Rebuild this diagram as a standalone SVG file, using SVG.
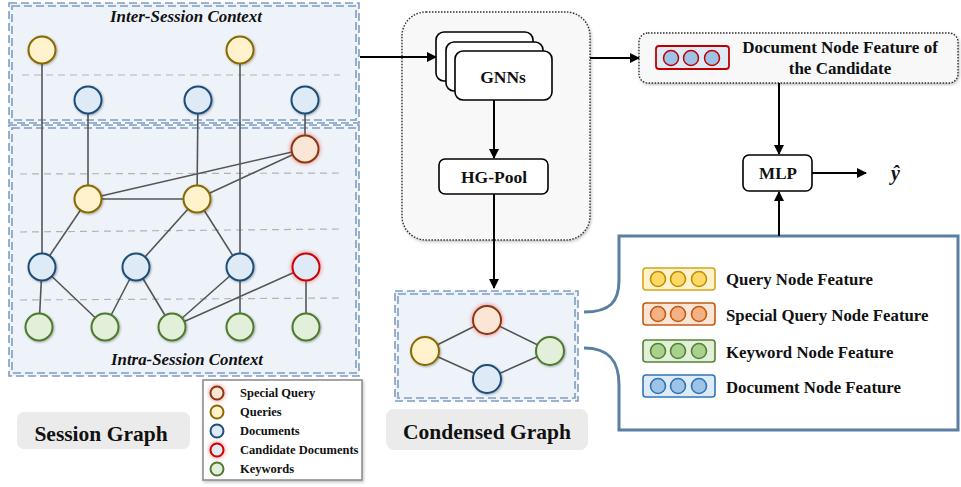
<svg xmlns="http://www.w3.org/2000/svg" width="961" height="487" viewBox="0 0 961 487">
  <defs>
    <style>
      .lbl { font-family: "Liberation Serif", "Times New Roman", serif; font-weight: bold; fill: #111; }
      .ctx { font-family: "Liberation Serif", "Times New Roman", serif; font-weight: bold; font-style: italic; font-size: 17px; fill: #111; text-anchor: middle; }
      .frame { fill: none; stroke: #7f9dc1; stroke-width: 1.6; stroke-dasharray: 8 4; }
      .sep { stroke: #b3b3b3; stroke-width: 1.2; stroke-dasharray: 7 5; }
      .edge { stroke: #555; stroke-width: 1.6; fill: none; }
      .arrow { stroke: #000; stroke-width: 2; fill: none; marker-end: url(#ah); }
      .q { fill: #fff2cc; stroke: #8a6a00; stroke-width: 2; }
      .d { fill: #deebf7; stroke: #1f4e79; stroke-width: 2; }
      .sq { fill: #fbe5d6; stroke: #8a3a0c; stroke-width: 2; }
      .cd { fill: #deebf7; stroke: #d00000; stroke-width: 2; }
      .k { fill: #e2f0d9; stroke: #4f7a2f; stroke-width: 2; }
      .box { fill: #fff; stroke: #000; stroke-width: 1.6; }
      .tag { fill: #ebebeb; }
    </style>
    <marker id="ah" viewBox="0 0 10 10" refX="9" refY="5" markerWidth="5" markerHeight="5" orient="auto">
      <path d="M0,0 L10,5 L0,10 z" fill="#000"/>
    </marker>
    <filter id="soft" x="-30%" y="-30%" width="160%" height="160%">
      <feDropShadow dx="0.8" dy="0.8" stdDeviation="0.9" flood-color="#000" flood-opacity="0.35"/>
    </filter>
    <filter id="glow" x="-40%" y="-40%" width="180%" height="180%">
      <feDropShadow dx="0" dy="0" stdDeviation="2" flood-color="#e03030" flood-opacity="0.7"/>
    </filter>
    <filter id="panel" x="-5%" y="-5%" width="110%" height="110%">
      <feDropShadow dx="1" dy="1.5" stdDeviation="1.5" flood-color="#000" flood-opacity="0.25"/>
    </filter>
  </defs>

  <!-- session graph panels -->
  <g id="inter-session">
    <rect x="9" y="3" width="350" height="120" fill="#eef3fa"/>
    <rect class="frame" x="9" y="3" width="350" height="120"/>
    <rect class="frame" x="12" y="6" width="344" height="114"/>
    <text class="ctx" x="186" y="22" textLength="152" lengthAdjust="spacingAndGlyphs">Inter-Session Context</text>
    <line class="sep" x1="22" y1="75" x2="340" y2="75"/>
  </g>
  <g id="intra-session">
    <rect x="9" y="125" width="350" height="251" fill="#eef3fa"/>
    <rect class="frame" x="9" y="125" width="350" height="251"/>
    <rect class="frame" x="12" y="128" width="344" height="245"/>
    <line class="sep" x1="20" y1="174" x2="340" y2="173"/>
    <line class="sep" x1="20" y1="232" x2="340" y2="229"/>
    <line class="sep" x1="20" y1="300" x2="340" y2="298"/>
    <text class="ctx" x="187" y="365" textLength="152" lengthAdjust="spacingAndGlyphs">Intra-Session Context</text>
  </g>

  <!-- session graph edges -->
  <g id="session-edges">
    <line class="edge" x1="42" y1="50" x2="42" y2="267"/>
    <line class="edge" x1="240" y1="50" x2="240" y2="267"/>
    <line class="edge" x1="88" y1="100" x2="88" y2="199"/>
    <line class="edge" x1="198" y1="100" x2="197" y2="199"/>
    <line class="edge" x1="305" y1="100" x2="305" y2="149"/>
    <line class="edge" x1="305" y1="149" x2="88" y2="199"/>
    <line class="edge" x1="305" y1="149" x2="197" y2="199"/>
    <line class="edge" x1="88" y1="199" x2="197" y2="199"/>
    <line class="edge" x1="88" y1="199" x2="42" y2="267"/>
    <line class="edge" x1="197" y1="199" x2="136" y2="267"/>
    <line class="edge" x1="197" y1="199" x2="240" y2="267"/>
    <line class="edge" x1="42" y1="267" x2="39" y2="327"/>
    <line class="edge" x1="42" y1="267" x2="105" y2="327"/>
    <line class="edge" x1="136" y1="267" x2="105" y2="327"/>
    <line class="edge" x1="136" y1="267" x2="172" y2="327"/>
    <line class="edge" x1="240" y1="267" x2="172" y2="327"/>
    <line class="edge" x1="240" y1="267" x2="240" y2="327"/>
    <line class="edge" x1="306" y1="267" x2="172" y2="327"/>
    <line class="edge" x1="306" y1="267" x2="306" y2="327"/>
  </g>

  <!-- session graph nodes -->
  <g id="session-nodes" filter="url(#soft)">
    <circle id="q1" class="q" cx="42" cy="50" r="13.5"/>
    <circle id="q2" class="q" cx="240" cy="50" r="13.5"/>
    <circle id="d1" class="d" cx="88" cy="100" r="13.5"/>
    <circle id="d2" class="d" cx="198" cy="100" r="13.5"/>
    <circle id="d3" class="d" cx="305" cy="100" r="13.5"/>
    <circle id="q3" class="q" cx="88" cy="199" r="13.5"/>
    <circle id="q4" class="q" cx="197" cy="199" r="13.5"/>
    <circle id="d4" class="d" cx="42" cy="267" r="13.5"/>
    <circle id="d5" class="d" cx="136" cy="267" r="13.5"/>
    <circle id="d6" class="d" cx="240" cy="267" r="13.5"/>
    <circle id="k1" class="k" cx="39" cy="327" r="13.5"/>
    <circle id="k2" class="k" cx="105" cy="327" r="13.5"/>
    <circle id="k3" class="k" cx="172" cy="327" r="13.5"/>
    <circle id="k4" class="k" cx="240" cy="327" r="13.5"/>
    <circle id="k5" class="k" cx="306" cy="327" r="13.5"/>
  </g>
  <g id="session-highlight" filter="url(#glow)">
    <circle id="sq1" class="sq" cx="305" cy="149" r="13.5"/>
    <circle id="cd1" class="cd" cx="306" cy="267" r="13.5"/>
  </g>

  <!-- node legend -->
  <g id="node-legend">
    <rect x="203" y="380" width="159" height="100" fill="#fff" stroke="#888" stroke-width="1.5" filter="url(#panel)"/>
    <circle class="sq" cx="217" cy="393" r="6.5" filter="url(#glow)"/>
    <circle class="q" cx="217" cy="412" r="6.5"/>
    <circle class="d" cx="217" cy="431" r="6.5"/>
    <circle class="cd" cx="217" cy="450" r="6.5" filter="url(#glow)"/>
    <circle class="k" cx="217" cy="469" r="6.5"/>
    <g class="lbl" font-size="12.5">
      <text x="240" y="397">Special Query</text>
      <text x="240" y="416">Queries</text>
      <text x="240" y="435">Documents</text>
      <text x="240" y="454">Candidate Documents</text>
      <text x="240" y="473">Keywords</text>
    </g>
  </g>

  <g id="session-tag">
    <rect class="tag" x="17" y="412" width="173" height="37" rx="7"/>
    <text class="lbl" x="101" y="441" font-size="21.5" text-anchor="middle">Session Graph</text>
  </g>

  <!-- encoder panel -->
  <g id="encoder">
    <rect x="402" y="12" width="188" height="228" rx="24" fill="#f8f8f8" stroke="#333" stroke-width="1.4" stroke-dasharray="1.5 1.5" filter="url(#panel)"/>
  </g>
  <g id="gnns">
    <rect class="box" x="436" y="32" width="97" height="49" rx="8"/>
    <rect class="box" x="446" y="42" width="97" height="49" rx="8"/>
    <rect class="box" x="455" y="51" width="97" height="49" rx="8"/>
    <text class="lbl" x="503" y="83" font-size="17.5" text-anchor="middle">GNNs</text>
  </g>
  <g id="hg-pool">
    <rect class="box" x="439" y="159" width="109" height="35" rx="6"/>
    <text class="lbl" x="494" y="183" font-size="17.5" text-anchor="middle">HG-Pool</text>
  </g>

  <!-- condensed graph -->
  <g id="condensed">
    <rect x="395" y="291" width="183" height="110" fill="#eef3fa"/>
    <rect class="frame" x="395" y="291" width="183" height="110"/>
    <rect class="frame" x="398" y="294" width="177" height="104"/>
    <line class="edge" x1="487" y1="320" x2="425" y2="351"/>
    <line class="edge" x1="487" y1="320" x2="550" y2="351"/>
    <line class="edge" x1="425" y1="351" x2="487" y2="379"/>
    <line class="edge" x1="550" y1="351" x2="487" y2="379"/>
    <circle class="sq" cx="487" cy="320" r="14" filter="url(#glow)"/>
    <circle class="q" cx="425" cy="351" r="14" filter="url(#soft)"/>
    <circle class="k" cx="550" cy="351" r="14" filter="url(#soft)"/>
    <circle class="d" cx="487" cy="379" r="14" filter="url(#soft)"/>
  </g>
  <g id="condensed-tag">
    <rect class="tag" x="386" y="409" width="202" height="41" rx="8"/>
    <text class="lbl" x="487" y="439" font-size="21.5" text-anchor="middle">Condensed Graph</text>
  </g>

  <!-- candidate feature -->
  <g id="candidate-feature">
    <rect x="639" y="33" width="319" height="50" rx="9" fill="#f8f8f8" stroke="#333" stroke-width="1.4" stroke-dasharray="1.5 1.5" filter="url(#panel)"/>
    <rect x="656" y="46" width="73" height="23" rx="3" fill="#deebf7" stroke="#c00000" stroke-width="1.8"/>
    <circle cx="671" cy="58" r="7.5" fill="#9dc3e6" stroke="#c00000" stroke-width="1.5"/>
    <circle cx="691" cy="58" r="7.5" fill="#9dc3e6" stroke="#c00000" stroke-width="1.5"/>
    <circle cx="712" cy="58" r="7.5" fill="#9dc3e6" stroke="#c00000" stroke-width="1.5"/>
    <text class="lbl" x="840" y="53" font-size="17" text-anchor="middle">Document Node Feature of</text>
    <text class="lbl" x="840" y="74" font-size="17" text-anchor="middle">the Candidate</text>
  </g>

  <g id="mlp">
    <rect class="box" x="743" y="155" width="69" height="36" rx="6"/>
    <text class="lbl" x="778" y="179" font-size="17" text-anchor="middle">MLP</text>
  </g>
  <g id="output">
    <text class="lbl" x="891" y="180" font-size="20" font-style="italic">ŷ</text>
  </g>

  <!-- feature legend with brace -->
  <g id="feature-legend">
    <path d="M584,312 C610,312 619,302 619,280 L619,236 L958,236 L958,430 L619,430 L619,385 C619,362 610,348 584,348" fill="#fff" stroke="#5b7fa3" stroke-width="3"/>
    <g stroke-width="1.6">
      <rect x="643" y="268" width="72" height="22" rx="3" fill="#fff2cc" stroke="#d4a514"/>
      <circle cx="658" cy="279" r="7.5" fill="#ffd966" stroke="#c09000"/>
      <circle cx="678" cy="279" r="7.5" fill="#ffd966" stroke="#c09000"/>
      <circle cx="699" cy="279" r="7.5" fill="#ffd966" stroke="#c09000"/>
      <rect x="643" y="303" width="72" height="22" rx="3" fill="#fbe5d6" stroke="#c55a11"/>
      <circle cx="658" cy="314" r="7.5" fill="#f4b183" stroke="#c55a11"/>
      <circle cx="678" cy="314" r="7.5" fill="#f4b183" stroke="#c55a11"/>
      <circle cx="699" cy="314" r="7.5" fill="#f4b183" stroke="#c55a11"/>
      <rect x="643" y="340" width="72" height="22" rx="3" fill="#e2f0d9" stroke="#548235"/>
      <circle cx="658" cy="351" r="7.5" fill="#a9d18e" stroke="#548235"/>
      <circle cx="678" cy="351" r="7.5" fill="#a9d18e" stroke="#548235"/>
      <circle cx="699" cy="351" r="7.5" fill="#a9d18e" stroke="#548235"/>
      <rect x="643" y="375" width="72" height="22" rx="3" fill="#deebf7" stroke="#2e75b6"/>
      <circle cx="658" cy="386" r="7.5" fill="#9dc3e6" stroke="#2e75b6"/>
      <circle cx="678" cy="386" r="7.5" fill="#9dc3e6" stroke="#2e75b6"/>
      <circle cx="699" cy="386" r="7.5" fill="#9dc3e6" stroke="#2e75b6"/>
    </g>
    <g class="lbl" font-size="16.8">
      <text x="726" y="285">Query Node Feature</text>
      <text x="726" y="321">Special Query Node Feature</text>
      <text x="726" y="358">Keyword Node Feature</text>
      <text x="726" y="393">Document Node Feature</text>
    </g>
  </g>

  <!-- connectors -->
  <g id="connectors">
    <line class="arrow" x1="360" y1="57" x2="436" y2="57"/>
    <line class="arrow" x1="494" y1="100" x2="494" y2="158"/>
    <line class="arrow" x1="494" y1="194" x2="494" y2="288"/>
    <line class="arrow" x1="590" y1="58" x2="639" y2="58"/>
    <line class="arrow" x1="779" y1="83" x2="779" y2="154"/>
    <line class="arrow" x1="779" y1="236" x2="779" y2="192"/>
    <line class="arrow" x1="812" y1="173" x2="866" y2="173"/>
  </g>
</svg>
